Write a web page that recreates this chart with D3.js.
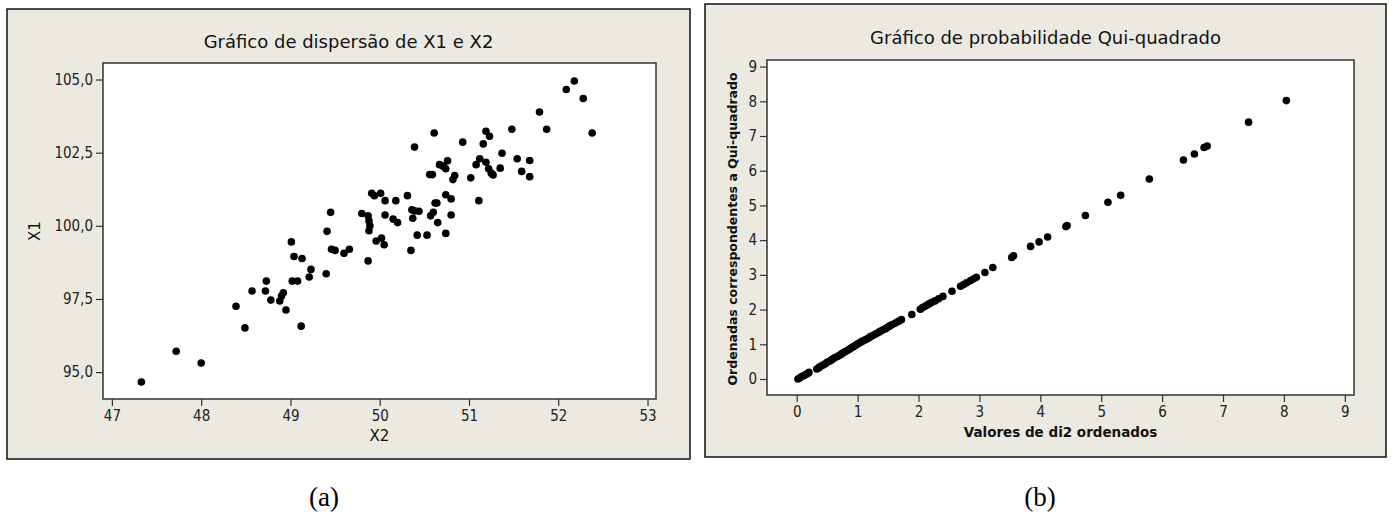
<!DOCTYPE html>
<meta charset="utf-8">
<title>Graficos X1 X2</title>
<style> /* set the CSS */
    html,body{
        margin: 0;
        background-color: #ffffff;
    }
    svg{
        display: block;
    }
    .panel{
        fill: #ece9e0;
        stroke: #111;
        stroke-width: 1.5px;
    }
    .frame{
        fill: #ffffff;
        stroke: #333;
        stroke-width: 1.5px;
    }
    .title{
        font-family: 'DejaVu Sans', sans-serif;
        font-size: 18px;
        fill: #111;
    }
    .axis text{
        font-family: 'DejaVu Sans Condensed', 'DejaVu Sans', sans-serif;
        font-size: 15px;
        fill: #222;
    }
    .axis path{ display: none; }
    .axis line{ stroke: #333; stroke-width: 1.2px; }
    .lab{
        font-family: 'DejaVu Sans', sans-serif;
        font-size: 15px;
        fill: #111;
    }
    .labb{
        font-family: 'DejaVu Sans', sans-serif;
        font-size: 13.5px;
        font-weight: bold;
        fill: #111;
    }
    .labb.vert{ font-size: 12.5px; }
    .cap{
        font-family: 'Liberation Serif', 'Times New Roman', serif;
        font-size: 27px;
        fill: #000;
    }
</style>
<body>
<script src="https://d3js.org/d3.v7.min.js"></script>
<script>

// (a) dispersion X2 vs X1
var x2 = [47.33,47.72,48.00,48.39,48.49,48.57,48.72,48.73,48.78,48.88,48.90,48.92,48.95,49.01,49.04,49.02,49.08,49.13,49.12,49.21,
          49.23,49.40,49.41,49.45,49.46,49.50,49.60,49.66,49.80,49.87,49.87,49.88,49.88,49.89,49.91,49.94,49.96,50.01,50.02,50.05,
          50.06,50.06,50.15,50.18,50.20,50.31,50.35,50.36,50.37,50.39,50.39,50.42,50.53,50.56,50.57,50.59,50.60,50.61,50.62,50.65,
          50.64,50.67,50.71,50.74,50.74,50.74,50.76,50.80,50.80,50.82,50.84,50.93,51.02,51.08,51.11,51.12,51.16,51.19,51.19,51.22,
          51.23,51.27,51.35,51.37,51.48,51.54,51.59,51.68,51.68,51.79,51.87,52.09,52.18,52.28,52.38,51.25,50.44];
var x1 = [94.66,95.71,95.31,97.25,96.51,97.77,97.77,98.11,97.46,97.43,97.60,97.71,97.12,99.45,98.95,98.11,98.11,98.88,96.57,98.25,
          98.51,98.36,99.81,100.46,99.20,99.16,99.06,99.20,100.42,98.80,100.34,100.17,99.83,100.00,101.11,101.03,99.48,101.11,99.58,99.35,
          100.86,100.37,100.23,100.86,100.11,101.03,99.16,100.55,100.26,100.51,102.69,99.68,99.68,101.75,100.34,101.75,100.46,103.17,100.78,100.11,
          100.78,102.09,102.04,99.74,101.06,101.95,102.22,100.92,100.37,101.58,101.72,102.86,101.64,102.09,100.86,102.29,102.80,102.17,103.23,101.95,
          103.06,101.74,101.97,102.48,103.30,102.29,101.86,102.23,101.68,103.89,103.30,104.66,104.95,104.35,103.17,101.80,100.50];
var x2Ticks = [47, 48, 49, 50, 51, 52, 53];
var x1Ticks = [95, 97.5, 100, 102.5, 105];

// (b) qui-quadrado probability plot
var di2 = [0.02,0.05,0.08,0.12,0.15,0.18,0.20,0.33,0.36,0.38,0.41,0.44,0.47,0.50,0.54,0.57,0.60,0.62,0.66,0.69,
           0.72,0.74,0.77,0.80,0.83,0.86,0.88,0.91,0.94,0.97,0.99,1.02,1.05,1.08,1.12,1.15,1.18,1.21,1.25,1.28,
           1.31,1.35,1.38,1.42,1.46,1.49,1.53,1.57,1.62,1.67,1.72,1.89,2.03,2.06,2.10,2.14,2.18,2.22,2.27,2.33,
           2.40,2.55,2.69,2.74,2.79,2.85,2.90,2.95,3.09,3.22,3.53,3.56,3.84,3.98,4.12,4.42,4.44,4.74,5.11,5.32,
           5.79,6.35,6.53,6.69,6.74,7.42,8.04];
var qui = [0.00,0.03,0.07,0.10,0.13,0.16,0.19,0.29,0.32,0.35,0.38,0.41,0.44,0.48,0.51,0.55,0.58,0.61,0.64,0.67,
           0.70,0.73,0.76,0.79,0.82,0.85,0.88,0.91,0.94,0.97,1.00,1.03,1.06,1.09,1.12,1.15,1.18,1.22,1.25,1.28,
           1.31,1.35,1.38,1.42,1.45,1.49,1.53,1.57,1.61,1.66,1.71,1.86,2.01,2.05,2.09,2.13,2.17,2.21,2.25,2.31,
           2.38,2.53,2.67,2.72,2.77,2.83,2.88,2.93,3.07,3.21,3.50,3.55,3.82,3.95,4.09,4.39,4.42,4.71,5.09,5.29,
           5.76,6.31,6.48,6.67,6.71,7.40,8.02];
var quiTicks = [0, 1, 2, 3, 4, 5, 6, 7, 8, 9];

var svg = d3.select("body").append("svg")
    .attr("width", 1393)
    .attr("height", 515);

var comma = d3.formatLocale({decimal: ",", thousands: ".", grouping: [3], currency: ["", ""]}).format(".1f");

// draws one minitab-like panel
function panel(o) {
  var g = svg.append("g");

  g.append("rect").attr("class", "panel")
      .attr("x", o.box[0]).attr("y", o.box[1])
      .attr("width", o.box[2]).attr("height", o.box[3]);

  g.append("text").attr("class", "title")
      .attr("x", o.box[0] + o.box[2] / 2).attr("y", o.titleY)
      .attr("text-anchor", "middle")
      .text(o.title);

  var x = d3.scaleLinear().domain(o.xd).range([o.plot[0], o.plot[2]]);
  var y = d3.scaleLinear().domain(o.yd).range([o.plot[3], o.plot[1]]);

  g.append("rect").attr("class", "frame")
      .attr("x", o.plot[0]).attr("y", o.plot[1])
      .attr("width", o.plot[2] - o.plot[0]).attr("height", o.plot[3] - o.plot[1]);

  // Add the X Axis
  g.append("g").attr("class", "axis")
      .attr("transform", "translate(0," + o.plot[3] + ")")
      .call(d3.axisBottom(x).tickValues(o.xt).tickSize(7).tickPadding(4).tickFormat(o.xf));

  // Add the Y Axis
  g.append("g").attr("class", "axis")
      .attr("transform", "translate(" + o.plot[0] + ",0)")
      .call(d3.axisLeft(y).tickValues(o.yt).tickSize(7).tickPadding(3).tickFormat(o.yf));

  g.append("text").attr("class", o.labClass)
      .attr("x", (o.plot[0] + o.plot[2]) / 2).attr("y", o.xLabY)
      .attr("text-anchor", "middle")
      .text(o.xLab);

  g.append("text").attr("class", o.labClass + " vert")
      .attr("transform", "translate(" + o.yLabX + "," + o.yLabMid + ") rotate(-90)")
      .attr("text-anchor", "middle")
      .text(o.yLab);

  g.append("g").selectAll("circle")
      .data(o.xs)
      .enter().append("circle")
      .attr("cx", function(d) { return x(d); })
      .attr("cy", function(d, i) { return y(o.ys[i]); })
      .attr("r", 3.8)
      .attr("fill", "#000");

  svg.append("text").attr("class", "cap")
      .attr("x", o.capX).attr("y", 506)
      .attr("text-anchor", "middle")
      .text(o.cap);
}

panel({
  box: [7, 9, 683, 450],
  plot: [103, 63, 656, 399],
  title: "Gráfico de dispersão de X1 e X2", titleY: 48,
  xd: [46.9, 53.095], yd: [94.08, 105.565],
  xt: x2Ticks, yt: x1Ticks,
  xf: d3.format("d"), yf: comma,
  xs: x2, ys: x1,
  labClass: "lab", xLab: "X2", xLabY: 441, yLab: "X1", yLabX: 40, yLabMid: 231,
  cap: "(a)", capX: 324
});

panel({
  box: [705, 4, 681, 453],
  plot: [767, 60, 1354, 395],
  title: "Gráfico de probabilidade Qui-quadrado", titleY: 44,
  xd: [-0.488, 9.151], yd: [-0.461, 9.19],
  xt: quiTicks, yt: quiTicks,
  xf: d3.format("d"), yf: d3.format("d"),
  xs: di2, ys: qui,
  labClass: "labb", xLab: "Valores de di2 ordenados", xLabY: 437,
  yLab: "Ordenadas correspondentes a Qui-quadrado", yLabX: 737, yLabMid: 229,
  cap: "(b)", capX: 1040
});

</script>
</body>
